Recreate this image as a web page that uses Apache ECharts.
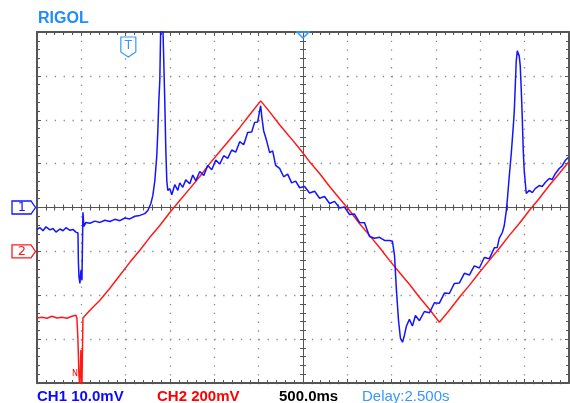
<!DOCTYPE html>
<html>
<head>
<meta charset="utf-8">
<script src="https://cdn.jsdelivr.net/npm/echarts@6/dist/echarts.min.js"></script>
<style>html,body{margin:0;padding:0;background:#fff;}#c{width:570px;height:403px;}</style>
</head>
<body>
<div id="c"></div>
<script>
// ---- Data (time in s across screen, CH1 in mV, CH2 in mV) ----
var ch1Time = [0.000,0.034,0.068,0.101,0.146,0.180,0.214,0.259,0.293,0.327,0.372,0.405,0.439,0.462,0.467,0.473,0.484,0.495,0.507,0.518,0.529,0.552,0.597,0.653,0.709,0.766,0.822,0.878,0.935,0.991,1.047,1.104,1.160,1.216,1.250,1.284,1.306,1.329,1.351,1.363,1.374,1.385,1.396,1.408,1.419,1.430,1.441,1.453,1.464,1.475,1.498,1.520,1.554,1.588,1.610,1.644,1.678,1.723,1.757,1.791,1.836,1.881,1.926,1.971,2.016,2.061,2.106,2.151,2.196,2.241,2.286,2.331,2.376,2.421,2.455,2.489,2.511,2.523,2.534,2.556,2.590,2.624,2.658,2.691,2.736,2.782,2.827,2.872,2.917,2.962,3.018,3.074,3.131,3.187,3.243,3.300,3.356,3.412,3.468,3.525,3.581,3.637,3.694,3.750,3.806,3.863,3.919,3.975,4.009,4.032,4.054,4.077,4.099,4.122,4.144,4.167,4.200,4.234,4.268,4.313,4.369,4.426,4.482,4.538,4.595,4.651,4.707,4.764,4.820,4.876,4.932,4.989,5.045,5.101,5.158,5.191,5.214,5.248,5.270,5.293,5.304,5.327,5.349,5.372,5.383,5.394,5.405,5.417,5.428,5.439,5.450,5.462,5.473,5.484,5.495,5.518,5.552,5.586,5.619,5.664,5.698,5.732,5.777,5.811,5.845,5.890,5.923,5.957,5.991];
var ch1Values = [-5.0,-4.6,-5.3,-4.4,-5.1,-4.8,-5.6,-4.9,-5.3,-4.6,-5.2,-5.0,-5.6,-5.8,-12.5,-15.7,-17.3,-14.3,-16.6,-1.1,-4.3,-3.4,-3.6,-3.1,-3.4,-2.9,-3.2,-2.7,-3.0,-2.4,-2.6,-2.0,-1.8,-1.4,-0.7,0.9,2.7,6.1,11.8,17.5,24.3,28.9,42,42,42,42,24.3,13.0,6.1,3.9,4.3,2.9,5.2,3.9,5.6,4.6,6.3,5.4,7.4,6.1,8.2,7.3,9.6,8.6,10.8,9.9,11.8,11.2,13.1,12.6,15.0,14.3,17.1,17.2,19.4,19.5,22.0,23.2,20.9,17.5,15.2,12.5,12.9,9.6,8.9,7.0,7.6,5.6,6.0,4.5,4.8,3.3,3.7,2.1,2.5,0.9,1.4,-0.1,0.1,-1.6,-1.5,-3.4,-3.5,-6.6,-7.0,-6.8,-7.5,-7.5,-7.7,-10.9,-18.9,-25.7,-29.8,-30.7,-29.1,-27.0,-25.5,-27.0,-24.6,-25.8,-23.7,-24.0,-21.7,-21.8,-19.5,-19.6,-17.3,-17.2,-15.0,-15.4,-13.3,-13.8,-11.4,-11.7,-9.2,-9.1,-7.0,-5.7,-4.1,-0.7,1.6,7.3,12.3,18.6,22.0,27.7,33.4,35.7,36.1,34.5,32.3,26.6,20.5,13.0,8.4,3.2,3.9,3.4,4.3,5.0,4.8,5.7,6.6,6.4,7.7,8.9,9.5,10.7,11.4];

var ch2Time = [0.000,0.056,0.113,0.169,0.225,0.282,0.338,0.394,0.439,0.450,0.462,0.473,0.484,0.495,0.507,0.518,0.597,0.709,0.822,0.935,1.047,1.160,1.273,1.385,1.498,1.610,1.723,1.836,1.948,2.061,2.173,2.286,2.399,2.523,2.624,2.736,2.849,2.962,3.074,3.187,3.300,3.412,3.525,3.637,3.750,3.863,3.975,4.088,4.200,4.313,4.426,4.538,4.651,4.764,4.876,4.989,5.101,5.214,5.327,5.439,5.552,5.664,5.777,5.890,5.991];
var ch2Values = [-304,-300,-305,-296,-304,-300,-305,-296,-291,-304,-405,-564,-620,-450,-620,-304,-268,-223,-168,-109,-50,5,64,118,177,232,286,341,400,455,509,564,623,686,636,577,523,468,409,355,296,241,186,127,73,18,-41,-96,-150,-209,-264,-323,-268,-209,-155,-96,-41,14,73,127,186,241,300,355,405];

var ch1Scale = {min: -40, max: 40, step: 10};     // 10.0 mV/div
var ch2Scale = {min: -600, max: 1000, step: 200}; // 200 mV/div
var timeScale = {min: 0, max: 6, step: 0.5};      // 500.0 ms/div
var statusTexts = ['CH1 10.0mV', 'CH2 200mV', '500.0ms', 'Delay:2.500s'];
var triggerTime = 1.03;

function zip(a, b) { return a.map(function (v, i) { return [v, b[i]]; }); }

var frameColor = '#555';
var dotColor = '#8a8a8a';
var GL = 37, GR = 1, GT = 32, GB = 20;
var gw = 570 - GL - GR, gh = 403 - GT - GB;
var mx = gw / 60, my = gh / 40;

function xAx(opts) {
  return Object.assign({
    type: 'value', min: timeScale.min, max: timeScale.max, interval: timeScale.step,
    position: 'bottom',
    axisLine: {show: true, onZero: false, lineStyle: {color: frameColor, width: 2}},
    axisTick: {show: true, inside: true, length: 4, lineStyle: {color: frameColor, width: 1}},
    minorTick: {show: true, splitNumber: 5, length: 3, lineStyle: {color: frameColor, width: 1}},
    axisLabel: {show: false},
    splitLine: {show: false}
  }, opts);
}
function yAx(sc, opts) {
  return Object.assign({
    type: 'value', min: sc.min, max: sc.max, interval: sc.step,
    position: 'left',
    axisLine: {show: true, onZero: false, lineStyle: {color: frameColor, width: 2}},
    axisTick: {show: true, inside: true, length: 4, lineStyle: {color: frameColor, width: 1}},
    minorTick: {show: true, splitNumber: 5, length: 3, lineStyle: {color: frameColor, width: 1}},
    axisLabel: {show: false},
    splitLine: {show: false}
  }, opts);
}

var chart = echarts.init(document.getElementById('c'), null, {renderer: 'canvas'});
var option = {
  animation: false,
  backgroundColor: '#ffffff',
  grid: {left: GL, right: GR, top: GT, bottom: GB, containLabel: false},
  xAxis: [
    xAx({position: 'bottom', splitLine: {show: true, lineStyle: {color: dotColor, width: 1.3, type: [1.3, my - 1.3]}}}),
    xAx({position: 'top'}),
    xAx({position: 'bottom', offset: -gh / 2, axisLine: {show: true, onZero: false, lineStyle: {color: frameColor, width: 1}}, axisTick: {show: true, inside: true, length: 3, lineStyle: {color: frameColor}}}),
    xAx({position: 'bottom', offset: -gh / 2, axisLine: {show: false, onZero: false}, axisTick: {show: true, inside: false, length: 3, lineStyle: {color: frameColor}}})
  ],
  yAxis: [
    yAx(ch1Scale, {position: 'left', splitLine: {show: true, lineStyle: {color: dotColor, width: 1.3, type: [1.3, mx - 1.3]}}}),
    yAx(ch2Scale, {position: 'right'}),
    yAx(ch1Scale, {position: 'left', offset: -gw / 2, axisLine: {show: true, onZero: false, lineStyle: {color: frameColor, width: 1}}, axisTick: {show: true, inside: true, length: 3, lineStyle: {color: frameColor}}}),
    yAx(ch1Scale, {position: 'left', offset: -gw / 2, axisLine: {show: false, onZero: false}, axisTick: {show: true, inside: false, length: 3, lineStyle: {color: frameColor}}})
  ],
  series: [
    {type: 'line', name: 'CH1', xAxisIndex: 0, yAxisIndex: 0, data: zip(ch1Time, ch1Values),
     showSymbol: false, clip: true, lineStyle: {color: '#1414ff', width: 1.5}, z: 3},
    {type: 'line', name: 'CH2', xAxisIndex: 0, yAxisIndex: 1, data: zip(ch2Time, ch2Values),
     showSymbol: false, clip: true, lineStyle: {color: '#ff1a1a', width: 1.5}, z: 2}
  ]
};
chart.setOption(option);

var y1 = chart.convertToPixel({yAxisIndex: 0}, 0);
var y2 = chart.convertToPixel({yAxisIndex: 1}, 0);
var xt = chart.convertToPixel({xAxisIndex: 0}, triggerTime);
var xc = chart.convertToPixel({xAxisIndex: 0}, 3);
var yb = 403 - GB;

function chMarker(y, color, label) {
  return [
    {type: 'polygon', shape: {points: [[12, y - 6.5], [31, y - 6.5], [35.5, y], [31, y + 6.5], [12, y + 6.5]]},
     style: {fill: '#fff', stroke: color, lineWidth: 1.3}, z: 10},
    {type: 'text', style: {x: 22, y: y + 0.5, text: label, fill: color, font: '13px "DejaVu Sans"', align: 'center', verticalAlign: 'middle'}, z: 11}
  ];
}

var gfx = [
  {type: 'text', style: {x: 38, y: 19, text: 'RIGOL', fill: '#1e8cff', font: 'bold 16px "Liberation Sans", Arial', verticalAlign: 'middle'}},
  {type: 'text', style: {x: 37, y: 397, text: statusTexts[0], fill: '#0a0aff', font: 'bold 15px "Liberation Sans", Arial', verticalAlign: 'middle'}},
  {type: 'text', style: {x: 157, y: 397, text: statusTexts[1], fill: '#ff0000', font: 'bold 15px "Liberation Sans", Arial', verticalAlign: 'middle'}},
  {type: 'text', style: {x: 279, y: 397, text: statusTexts[2], fill: '#000000', font: 'bold 15px "Liberation Sans", Arial', verticalAlign: 'middle'}},
  {type: 'text', style: {x: 362, y: 397, text: statusTexts[3], fill: '#3399ff', font: '15px "Liberation Sans", Arial', verticalAlign: 'middle'}},
  {type: 'polygon', shape: {points: [[xt - 7.5, 37], [xt + 7.5, 37], [xt + 7.5, 52], [xt, 57], [xt - 7.5, 52]]},
   style: {fill: '#fff', stroke: '#3399ff', lineWidth: 1.2}, z: 10},
  {type: 'text', style: {x: xt, y: 46, text: 'T', fill: '#3399ff', font: '12px "DejaVu Sans"', align: 'center', verticalAlign: 'middle'}, z: 11},
  {type: 'polygon', shape: {points: [[xc - 6, GT], [xc + 6, GT], [xc, GT + 6]]},
   style: {fill: 'none', stroke: '#3399ff', lineWidth: 1.5}, z: 10},
  {type: 'text', style: {x: 75, y: yb - 9, text: 'N', fill: '#ff0000', font: '8px "DejaVu Sans"', align: 'center', verticalAlign: 'middle'}, z: 11}
].concat(chMarker(y1, '#1414ff', '1')).concat(chMarker(y2, '#ff1a1a', '2'));

chart.setOption({graphic: gfx});
</script>
</body>
</html>
